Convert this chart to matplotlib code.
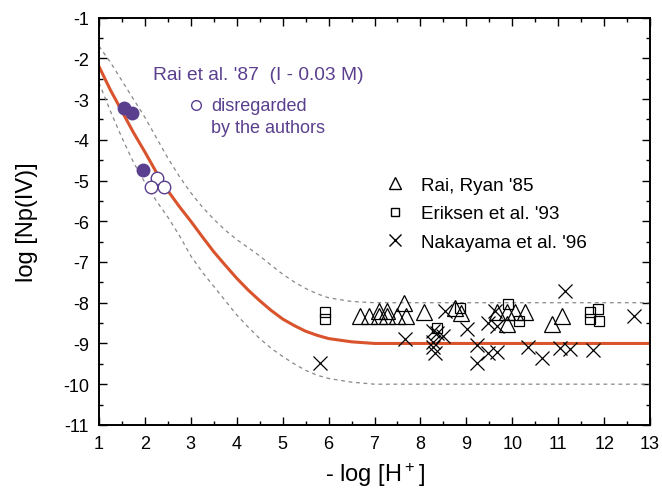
import numpy as np
import matplotlib
matplotlib.use("Agg")
import matplotlib.pyplot as plt
from matplotlib.lines import Line2D

plt.rcParams['font.family'] = ['Liberation Sans', 'DejaVu Sans']
plt.rcParams['mathtext.default'] = 'regular'
plt.rcParams['axes.unicode_minus'] = False

# model curve and bounds
curve_x = [1.0, 1.25, 1.5, 1.75, 2.0, 2.25, 2.5, 2.75, 3.0, 3.25, 3.5, 3.75, 4.0, 4.25,
           4.5, 4.75, 5.0, 5.25, 5.5, 5.75, 6.0, 6.5, 7.0, 7.5, 13.0]
curve_y = [-2.2, -2.78, -3.3, -3.82, -4.3, -4.8, -5.25, -5.64, -6.0, -6.38, -6.75, -7.08,
           -7.4, -7.69, -7.95, -8.19, -8.4, -8.56, -8.7, -8.8, -8.88, -8.96, -9.0, -9.0, -9.0]
upper_y = [-1.7, -2.1, -2.55, -3.0, -3.45, -3.95, -4.45, -4.9, -5.3, -5.65, -5.95, -6.22,
           -6.45, -6.65, -6.85, -7.08, -7.3, -7.49, -7.65, -7.78, -7.88, -7.97, -8.0, -8.0, -8.0]
lower_y = [-2.6, -3.3, -3.95, -4.55, -5.05, -5.5, -5.9, -6.35, -6.85, -7.25, -7.6, -7.95,
           -8.3, -8.6, -8.88, -9.12, -9.32, -9.5, -9.66, -9.78, -9.86, -9.95, -10.0, -10.0, -10.0]

# Rai et al. '87
rai87_x = [1.55, 1.71, 1.95]
rai87_y = [-3.23, -3.35, -4.73]
rai87_open_x = [2.27, 2.13, 2.41]
rai87_open_y = [-4.93, -5.15, -5.15]

# Rai, Ryan '85
rai85_x = [6.69, 6.88, 7.09, 7.09, 7.28, 7.28, 7.49, 7.69, 7.64, 8.08, 8.76, 8.88,
           9.66, 9.88, 10.06, 10.28, 9.88, 10.86, 11.08]
rai85_y = [-8.33, -8.33, -8.33, -8.2, -8.33, -8.2, -8.33, -8.33, -8.0, -8.23, -8.12, -8.26,
           -8.23, -8.23, -8.23, -8.23, -8.53, -8.53, -8.33]

# Eriksen et al. '93
eriksen_x = [5.92, 5.92, 8.36, 8.87, 9.9, 10.15, 11.7, 11.86, 11.7, 11.89]
eriksen_y = [-8.24, -8.39, -8.61, -8.12, -8.02, -8.46, -8.24, -8.16, -8.39, -8.46]

# Nakayama et al. '96
naka_x = [5.81, 7.67, 8.28, 8.37, 8.5, 8.27, 8.28, 8.32, 8.54, 9.01, 9.23, 9.24,
          9.46, 9.66, 9.46, 9.66, 9.63, 10.35, 10.64, 11.04, 11.25, 11.15, 11.76, 12.66]
naka_y = [-9.47, -8.9, -8.69, -8.75, -8.82, -8.96, -9.08, -9.24, -8.2, -8.65, -9.05, -9.49,
          -9.23, -9.21, -8.5, -8.57, -8.2, -9.08, -9.35, -9.1, -9.14, -7.71, -9.16, -8.33]

purple = '#5a3f8e'
red = '#d9532c'

fig = plt.figure(figsize=(6.62, 4.89), dpi=100)
ax = fig.add_axes([0.1495, 0.129, 0.8325, 0.833])

ax.plot(curve_x, upper_y, color='#888888', lw=0.9, ls=(0, (3, 3)))
ax.plot(curve_x, lower_y, color='#888888', lw=0.9, ls=(0, (3, 3)))
ax.plot(curve_x, curve_y, color=red, lw=2.2)

ax.plot(rai85_x, rai85_y, ls='none', marker='^', ms=11, mfc='none', mec='black', mew=0.9)
ax.plot(eriksen_x, eriksen_y, ls='none', marker='s', ms=7.5, mfc='none', mec='black', mew=0.9)
ax.plot(naka_x, naka_y, ls='none', marker='x', ms=10, color='black', mew=0.9)
ax.plot(rai87_x, rai87_y, ls='none', marker='o', ms=9, color=purple)
ax.plot(rai87_open_x, rai87_open_y, ls='none', marker='o', ms=9, mfc='white', mec=purple, mew=1.0)

# annotation for Rai '87
ax.text(2.18, -2.39, "Rai et al. '87  (I - 0.03 M)", color=purple, fontsize=13.8, va='center')
ax.plot([3.11], [-3.15], ls='none', marker='o', ms=7, mfc='white', mec=purple, mew=1.0)
ax.text(3.44, -3.15, "disregarded", color=purple, fontsize=13, va='center')
ax.text(3.44, -3.69, "by the authors", color=purple, fontsize=13, va='center')

handles = [
    Line2D([], [], ls='none', marker='^', ms=8, mfc='none', mec='black', mew=1.0),
    Line2D([], [], ls='none', marker='s', ms=6, mfc='none', mec='black', mew=1.0),
    Line2D([], [], ls='none', marker='x', ms=8, color='black', mew=1.0),
]
ax.legend(handles, ["Rai, Ryan '85", "Eriksen et al. '93", "Nakayama et al. '96"],
          loc='upper left', bbox_to_anchor=(0.495, 0.633), frameon=False, fontsize=13.6,
          handletextpad=0.6, labelspacing=0.6, borderpad=0, handlelength=1.5)

ax.set_xlim(1, 13)
ax.set_ylim(-11, -1)
ax.set_xticks(range(1, 14))
ax.set_yticks(range(-11, 0))
ax.set_xticks(np.arange(1.5, 13, 1), minor=True)
ax.set_yticks(np.arange(-10.5, -1, 1), minor=True)
ax.tick_params(which='both', direction='in', top=True, right=True, labelsize=13, width=1.0)
ax.tick_params(which='major', length=6, pad=7)
ax.tick_params(which='minor', length=3)
for s in ax.spines.values():
    s.set_linewidth(1.4)

ax.set_xlabel("- log [H$^+$]", fontsize=17, labelpad=6)
ax.set_ylabel("log [Np(IV)]", fontsize=17, labelpad=18)

fig.savefig("out.png", dpi=100)
